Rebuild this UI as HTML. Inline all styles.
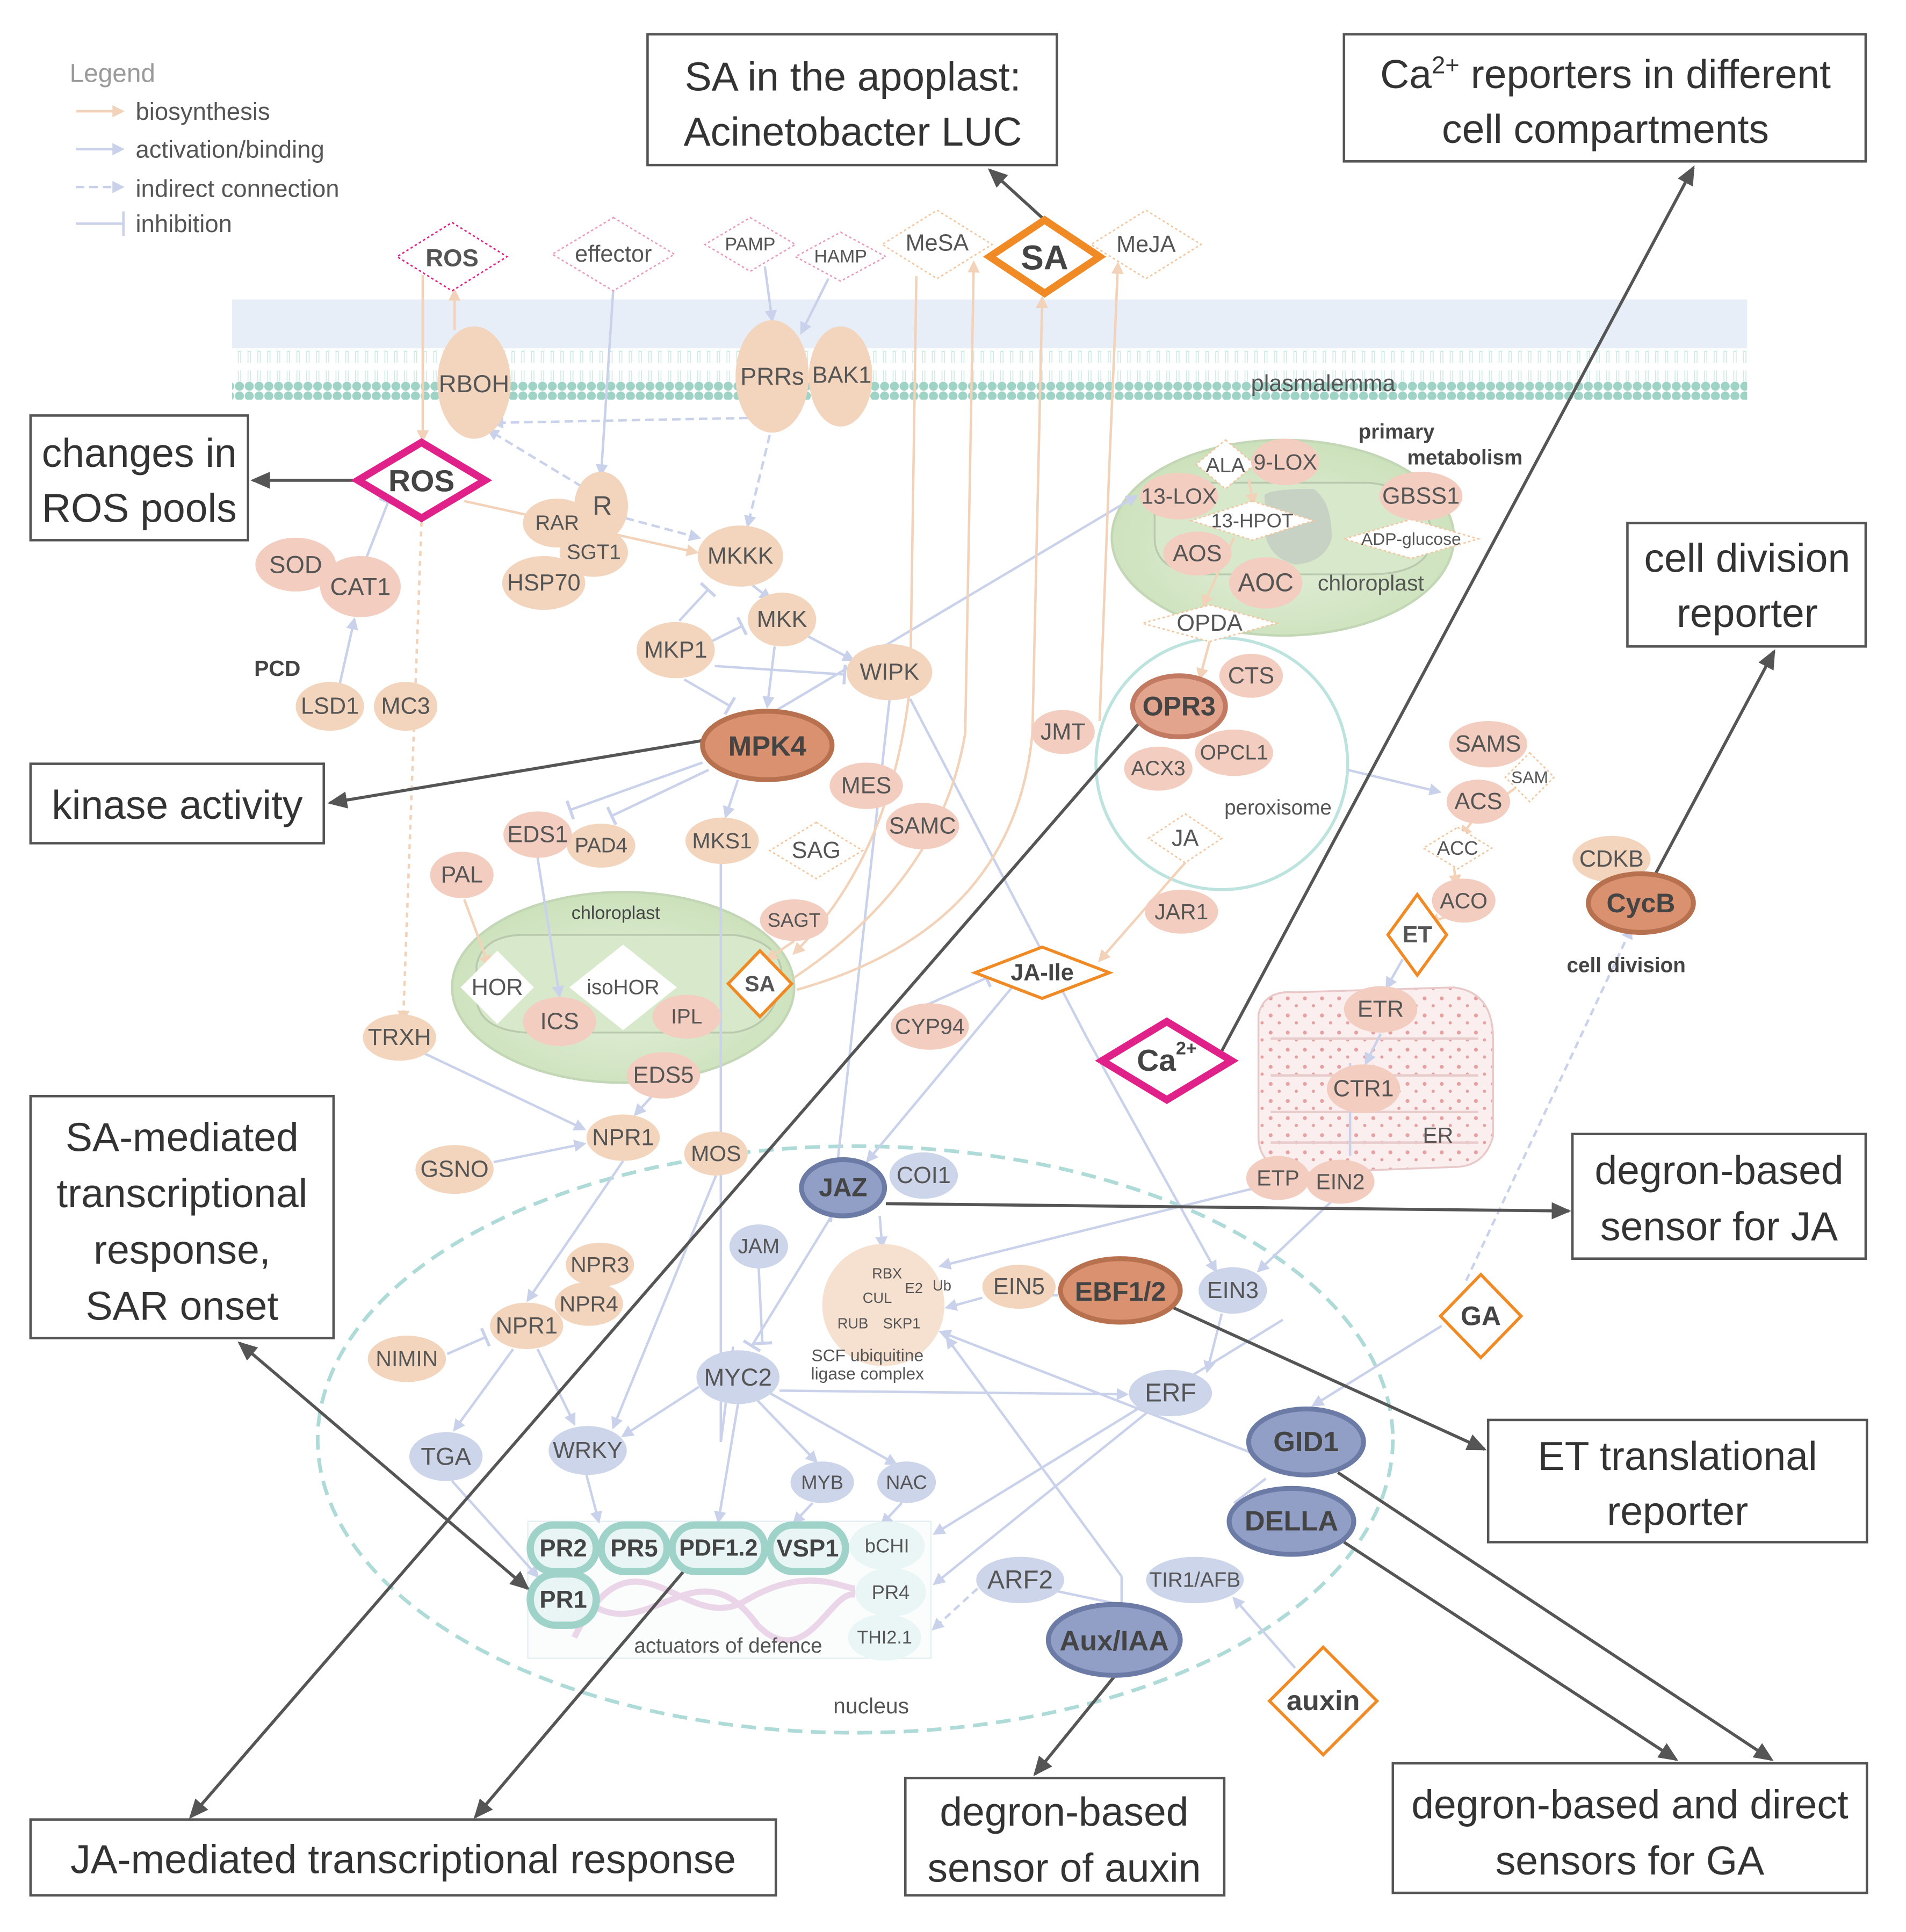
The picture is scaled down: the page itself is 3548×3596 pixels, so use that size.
<!DOCTYPE html>
<html><head><meta charset="utf-8"><style>
html,body{margin:0;padding:0;background:#fff;}
svg{display:block;}
text{font-family:"Liberation Sans",sans-serif;}
.n{font-size:19px;fill:#555;text-anchor:middle;dominant-baseline:central;}
.b{font-weight:bold;}
.h{font-size:33px;fill:#333;text-anchor:middle;font-family:"Liberation Sans",sans-serif;}
.pe{fill:#f3d4bc;}
.pk{fill:#f3cdbf;}
.bl{fill:#cdd5ea;}
.lb{stroke:#c9d2ea;stroke-width:2;fill:none;}
.lp{stroke:#f2d2b8;stroke-width:2;fill:none;}
.dk{stroke:#555;stroke-width:2.5;fill:none;}
</style></head><body>
<svg width="3548" height="3596" viewBox="0 0 1560 1581" xmlns="http://www.w3.org/2000/svg">
<defs>
<marker id="ab" markerWidth="10" markerHeight="10" refX="8" refY="5" orient="auto" markerUnits="userSpaceOnUse"><path d="M0,0 L10,5 L0,10 z" fill="#c9d2ea"/></marker>
<marker id="ap" markerWidth="10" markerHeight="10" refX="8" refY="5" orient="auto" markerUnits="userSpaceOnUse"><path d="M0,0 L10,5 L0,10 z" fill="#f2d2b8"/></marker>
<marker id="ad" markerWidth="16" markerHeight="14" refX="14" refY="7" orient="auto" markerUnits="userSpaceOnUse"><path d="M0,0 L16,7 L0,14 z" fill="#555"/></marker>
<marker id="ads" markerWidth="16" markerHeight="14" refX="2" refY="7" orient="auto" markerUnits="userSpaceOnUse"><path d="M16,0 L0,7 L16,14 z" fill="#555"/></marker>
<marker id="ti" markerWidth="4" markerHeight="16" refX="2" refY="8" orient="auto" markerUnits="userSpaceOnUse"><rect x="0" y="0" width="2.5" height="16" fill="#c9d2ea"/></marker>
<pattern id="lip" x="0" y="0" width="8" height="40" patternUnits="userSpaceOnUse">
<circle cx="4" cy="4" r="3.7" fill="#9fd3c6"/><circle cx="4" cy="36" r="3.7" fill="#9fd3c6"/>
<path d="M3,8 V17 M5,8 V17 M3,23 V32 M5,23 V32" stroke="#cde9e3" stroke-width="0.7"/>
</pattern>
<radialGradient id="chl" cx="50%" cy="55%" r="60%"><stop offset="0" stop-color="#e4efda"/><stop offset="1" stop-color="#c9e0b8"/></radialGradient>
<pattern id="er" width="14" height="14" patternUnits="userSpaceOnUse"><rect width="14" height="14" fill="#faeeee"/><circle cx="4" cy="5" r="1.6" fill="#e6a0a0"/><circle cx="11" cy="11" r="1.3" fill="#e6a0a0"/></pattern>
</defs>

<text x="57" y="67" style="font-size:21px;fill:#9a9a9a">Legend</text>
<line x1="62" y1="91" x2="100" y2="91" class="lp" stroke-width="4" marker-end="url(#ap)"/>
<line x1="62" y1="122" x2="100" y2="122" class="lb" stroke-width="4" marker-end="url(#ab)"/>
<line x1="62" y1="153" x2="100" y2="153" class="lb" stroke-width="3" stroke-dasharray="7 4" marker-end="url(#ab)"/>
<line x1="62" y1="183" x2="100" y2="183" class="lb" stroke-width="4"/><line x1="101" y1="173" x2="101" y2="193" class="lb" stroke-width="3"/>
<text x="111" y="98" style="font-size:20px;fill:#555">biosynthesis</text>
<text x="111" y="129" style="font-size:20px;fill:#555">activation/binding</text>
<text x="111" y="161" style="font-size:20px;fill:#555">indirect connection</text>
<text x="111" y="190" style="font-size:20px;fill:#555">inhibition</text>

<rect x="190" y="245" width="1240" height="40" fill="#e7eef8"/>
<rect x="190" y="287" width="1240" height="40" fill="url(#lip)"/>
<text x="1083" y="320" style="font-size:19px;fill:#555" text-anchor="middle">plasmalemma</text>

<ellipse cx="700" cy="1178" rx="440" ry="240" fill="none" stroke="#aedbd7" stroke-width="3" stroke-dasharray="12 7"/>
<text x="713" y="1396" class="n" style="font-size:18px">nucleus</text>

<ellipse cx="1050" cy="440" rx="140" ry="80" fill="url(#chl)" stroke="#c3d6b6" stroke-width="2"/>
<path d="M945,420 Q950,395 985,395 L1120,395 Q1170,400 1172,440 Q1170,470 1120,470 L985,470 Q945,468 945,440 z" fill="#d7e8cb" stroke="#b8c9ad" stroke-width="1.5"/>
<path d="M1035,405 Q1040,400 1075,400 Q1090,410 1090,440 Q1085,460 1060,462 Q1035,455 1035,430z" fill="#c8d2c4"/>
<text x="1143" y="359" class="b" style="font-size:17px;fill:#444" text-anchor="middle">primary</text>
<text x="1199" y="380" class="b" style="font-size:17px;fill:#444" text-anchor="middle">metabolism</text>

<ellipse cx="510" cy="808" rx="140" ry="78" fill="url(#chl)" stroke="#c3d6b6" stroke-width="2"/>
<path d="M390,790 Q395,765 430,765 L600,765 Q640,770 640,800 Q635,840 600,845 L430,845 Q390,842 390,815 z" fill="#d7e8cb" stroke="#b8c9ad" stroke-width="1.5"/>
<text x="504" y="752" style="font-size:15px;fill:#444" text-anchor="middle">chloroplast</text>

<circle cx="1000" cy="625" r="103" fill="none" stroke="#bde3df" stroke-width="2.5"/>
<text x="1046" y="661" class="n" style="font-size:17px">peroxisome</text>

<path d="M1030,830 Q1035,810 1060,812 L1190,808 Q1222,812 1222,850 L1222,930 Q1215,955 1190,955 L1060,960 Q1030,955 1030,930z" fill="url(#er)" stroke="#e8c8c8" stroke-width="1.5"/>
<path d="M1040,850 H1210 M1040,880 H1210 M1040,910 H1210 M1040,935 H1210" stroke="#e9cccc" stroke-width="2" fill="none"/>
<text x="1177" y="929" class="n" style="font-size:18px">ER</text>

<rect x="432" y="1245" width="330" height="112" fill="#fbfdfd" stroke="#e3eef0" stroke-width="1"/>
<path d="M470,1340 C520,1240 560,1340 610,1310 C660,1280 690,1300 700,1300 M480,1310 C530,1350 570,1260 620,1330 C660,1370 680,1300 700,1305" stroke="#ebd6e9" stroke-width="5" fill="none"/>

<g class="lb">
<line x1="502" y1="236" x2="492" y2="388" marker-end="url(#ab)"/>
<line x1="626" y1="218" x2="632" y2="262" marker-end="url(#ab)"/>
<line x1="678" y1="228" x2="656" y2="272" marker-end="url(#ab)"/>
<line x1="612" y1="342" x2="404" y2="346" stroke-dasharray="7 4" marker-end="url(#ab)"/>
<line x1="476" y1="398" x2="400" y2="352" stroke-dasharray="7 4" marker-end="url(#ab)"/>
<line x1="630" y1="356" x2="612" y2="430" stroke-dasharray="7 4" marker-end="url(#ab)"/>
<line x1="512" y1="424" x2="572" y2="440" stroke-dasharray="7 4" marker-end="url(#ab)"/>
<line x1="616" y1="479" x2="630" y2="490" marker-end="url(#ab)"/>
<line x1="556" y1="508" x2="580" y2="482" marker-end="url(#ti)"/>
<line x1="580" y1="526" x2="608" y2="512" marker-end="url(#ti)"/>
<line x1="585" y1="545" x2="692" y2="552" marker-end="url(#ti)"/>
<line x1="560" y1="556" x2="598" y2="578" marker-end="url(#ti)"/>
<line x1="634" y1="529" x2="628" y2="578" marker-end="url(#ab)"/>
<line x1="660" y1="520" x2="698" y2="540" marker-end="url(#ab)"/>
<line x1="604" y1="600" x2="930" y2="406" marker-end="url(#ab)"/>
<line x1="745" y1="572" x2="890" y2="850" />
<line x1="890" y1="850" x2="995" y2="1040" marker-end="url(#ab)"/>
<line x1="728" y1="573" x2="680" y2="1000"/>
<line x1="575" y1="624" x2="466" y2="663" marker-end="url(#ti)"/>
<line x1="580" y1="630" x2="500" y2="668" marker-end="url(#ti)"/>
<line x1="604" y1="638" x2="594" y2="668" marker-end="url(#ab)"/>
<line x1="590" y1="707" x2="590" y2="1180"/>
<line x1="590" y1="1180" x2="600" y2="1102"/>
<line x1="440" y1="702" x2="458" y2="815" marker-end="url(#ab)"/>
<line x1="278" y1="560" x2="290" y2="507" marker-end="url(#ab)"/>
<line x1="300" y1="456" x2="318" y2="410" marker-end="url(#ti)"/>
<line x1="343" y1="860" x2="478" y2="924" marker-end="url(#ab)"/>
<line x1="404" y1="951" x2="478" y2="936" marker-end="url(#ab)"/>
<line x1="540" y1="890" x2="520" y2="912" marker-end="url(#ab)"/>
<line x1="510" y1="950" x2="432" y2="1064" marker-end="url(#ab)"/>
<line x1="366" y1="1108" x2="398" y2="1094" marker-end="url(#ti)"/>
<line x1="420" y1="1104" x2="372" y2="1170" marker-end="url(#ab)"/>
<line x1="440" y1="1104" x2="470" y2="1165" marker-end="url(#ab)"/>
<line x1="586" y1="962" x2="502" y2="1168" marker-end="url(#ab)"/>
<line x1="370" y1="1212" x2="440" y2="1290" marker-end="url(#ab)"/>
<line x1="480" y1="1207" x2="490" y2="1245" marker-end="url(#ab)"/>
<line x1="604" y1="1149" x2="588" y2="1245" marker-end="url(#ab)"/>
<line x1="572" y1="1135" x2="510" y2="1175" marker-end="url(#ab)"/>
<line x1="620" y1="1146" x2="668" y2="1196" marker-end="url(#ab)"/>
<line x1="630" y1="1140" x2="733" y2="1198" marker-end="url(#ab)"/>
<line x1="665" y1="1230" x2="650" y2="1246" marker-end="url(#ab)"/>
<line x1="738" y1="1230" x2="722" y2="1247" marker-end="url(#ab)"/>
<line x1="638" y1="1138" x2="922" y2="1141" marker-end="url(#ab)"/>
<line x1="621" y1="1038" x2="624" y2="1100" marker-end="url(#ti)"/>
<line x1="680" y1="996" x2="615" y2="1102" marker-end="url(#ti)"/>
<line x1="720" y1="995" x2="722" y2="1020" marker-end="url(#ab)"/>
<line x1="830" y1="806" x2="710" y2="950" marker-end="url(#ab)"/>
<line x1="735" y1="833" x2="808" y2="800" marker-end="url(#ti)"/>
<line x1="1036" y1="970" x2="770" y2="1036" marker-end="url(#ab)"/>
<line x1="1090" y1="983" x2="1030" y2="1040" marker-end="url(#ab)"/>
<line x1="1105" y1="870" x2="1105" y2="946" />
<line x1="1130" y1="846" x2="1118" y2="870" marker-end="url(#ab)"/>
<line x1="1148" y1="785" x2="1135" y2="808" marker-end="url(#ab)"/>
<line x1="804" y1="1062" x2="775" y2="1070" marker-end="url(#ab)"/>
<line x1="866" y1="1060" x2="842" y2="1060" marker-end="url(#ab)"/>
<line x1="1000" y1="1075" x2="988" y2="1122" marker-end="url(#ab)"/>
<line x1="1050" y1="1080" x2="765" y2="1255" marker-end="url(#ab)"/>
<line x1="940" y1="1155" x2="765" y2="1296" marker-end="url(#ab)"/>
<line x1="800" y1="1300" x2="764" y2="1333" stroke-dasharray="6 4" marker-end="url(#ab)"/>
<line x1="912" y1="1312" x2="855" y2="1300" marker-end="url(#ti)"/>
<line x1="918" y1="1312" x2="918" y2="1290"/>
<line x1="918" y1="1290" x2="775" y2="1095" marker-end="url(#ab)"/>
<line x1="1060" y1="1365" x2="1010" y2="1308" marker-end="url(#ab)"/>
<line x1="1180" y1="1085" x2="1075" y2="1150" marker-end="url(#ab)"/>
<line x1="1200" y1="1048" x2="1335" y2="760" stroke-dasharray="6 4" marker-end="url(#ab)"/>
<line x1="1040" y1="1195" x2="770" y2="1090" marker-end="url(#ab)"/>
<line x1="1103" y1="630" x2="1178" y2="648" marker-end="url(#ab)"/>
<line x1="1036" y1="1210" x2="1010" y2="1230"/>
</g>
<g class="lp">
<line x1="346" y1="225" x2="346" y2="360" marker-end="url(#ap)"/>
<line x1="372" y1="270" x2="372" y2="238" marker-end="url(#ap)"/>
<line x1="345" y1="427" x2="330" y2="835" stroke-dasharray="4 4" marker-end="url(#ap)"/>
<line x1="380" y1="410" x2="570" y2="452" marker-end="url(#ap)"/>
<path d="M750,226 L745,560 Q730,700 650,780" marker-end="url(#ap)"/>
<path d="M650,800 Q770,720 790,600 L797,215" marker-end="url(#ap)"/>
<path d="M652,810 Q830,760 845,600 L853,244" marker-end="url(#ap)"/>
<path d="M900,590 L908,380 L915,216" marker-end="url(#ap)"/>
<line x1="380" y1="736" x2="400" y2="790" marker-end="url(#ap)"/>
<line x1="650" y1="770" x2="628" y2="785" marker-end="url(#ap)"/>
<line x1="990" y1="525" x2="982" y2="555" marker-end="url(#ap)"/>
<line x1="970" y1="706" x2="900" y2="786" marker-end="url(#ap)"/>
<line x1="1022" y1="392" x2="1026" y2="412" marker-end="url(#ap)"/>
<line x1="1010" y1="440" x2="985" y2="495" marker-end="url(#ap)"/>
<line x1="1225" y1="656" x2="1240" y2="645"/>
<line x1="1205" y1="672" x2="1196" y2="684" marker-end="url(#ap)"/>
<line x1="1190" y1="710" x2="1192" y2="724" marker-end="url(#ap)"/>
<line x1="1190" y1="748" x2="1170" y2="755" marker-end="url(#ap)"/>
</g>

<g class="dk">
<line x1="292" y1="393" x2="207" y2="393" marker-end="url(#ad)"/>
<line x1="855" y1="180" x2="810" y2="139" marker-end="url(#ad)"/>
<line x1="1000" y1="860" x2="1386" y2="137" marker-end="url(#ad)"/>
<line x1="1355" y1="715" x2="1452" y2="533" marker-end="url(#ad)"/>
<line x1="575" y1="606" x2="270" y2="657" marker-end="url(#ad)"/>
<line x1="725" y1="985" x2="1284" y2="991" marker-end="url(#ad)"/>
<line x1="960" y1="1070" x2="1215" y2="1186" marker-end="url(#ad)"/>
<line x1="932" y1="592" x2="156" y2="1487" marker-end="url(#ad)"/>
<line x1="562" y1="1283" x2="389" y2="1487" marker-end="url(#ad)"/>
<line x1="432" y1="1300" x2="196" y2="1099" marker-end="url(#ad)" marker-start="url(#ads)"/>
<line x1="912" y1="1372" x2="847" y2="1452" marker-end="url(#ad)"/>
<line x1="1095" y1="1205" x2="1450" y2="1440" marker-end="url(#ad)"/>
<line x1="1100" y1="1262" x2="1372" y2="1440" marker-end="url(#ad)"/>
</g>

<g fill="#fff" stroke-width="1.2" stroke-dasharray="2 2">
<polygon points="370,182 415,210 370,238 325,210" stroke="#e0218a"/>
<polygon points="502,178 552,208 502,238 452,208" stroke="#ea9cc0"/>
<polygon points="614,178 651,200 614,222 577,200" stroke="#ea9cc0"/>
<polygon points="688,190 725,210 688,230 651,210" stroke="#ea9cc0"/>
<polygon points="767,172 812,200 767,228 722,200" stroke="#f2c7a0"/>
<polygon points="938,172 983,200 938,228 893,200" stroke="#f2c7a0"/>
<polygon points="668,673 706,696 668,719 630,696" stroke="#f2c7a0"/>
<polygon points="1003,360 1027,380 1003,400 979,380" stroke="#f2c7a0"/>
<polygon points="1025,410 1075,426 1025,442 975,426" stroke="#f2c7a0"/>
<polygon points="1155,425 1210,441 1155,457 1100,441" stroke="#f2c7a0"/>
<polygon points="990,495 1045,510 990,525 935,510" stroke="#f2c7a0"/>
<polygon points="970,666 1000,686 970,706 940,686" stroke="#f2c7a0"/>
<polygon points="1252,616 1272,636 1252,656 1232,636" stroke="#f2c7a0"/>
<polygon points="1193,677 1221,694 1193,711 1165,694" stroke="#f2c7a0"/>
</g>
<g fill="#fff" stroke="none">
<polygon points="407,778 437,808 407,838 377,808"/>
<polygon points="510,773 554,808 510,843 466,808"/>
</g>
<polygon points="855,180 900,210 855,240 810,210" fill="#fff" stroke="#f08a24" stroke-width="6"/>
<polygon points="345,362 397,393 345,424 293,393" fill="#fff" stroke="#e0218a" stroke-width="6"/>
<polygon points="955,836 1008,868 955,900 902,868" fill="#fff" stroke="#e0218a" stroke-width="6"/>
<polygon points="853,775 908,796 853,817 798,796" fill="#fff" stroke="#f08a24" stroke-width="2.5"/>
<polygon points="622,778 648,805 622,832 596,805" fill="#fff" stroke="#f08a24" stroke-width="2.5"/>
<polygon points="1160,732 1184,765 1160,798 1136,765" fill="#fff" stroke="#f08a24" stroke-width="2.5"/>
<polygon points="1212,1043 1245,1077 1212,1111 1179,1077" fill="#fff" stroke="#f08a24" stroke-width="2.5"/>
<polygon points="1083,1348 1127,1392 1083,1436 1039,1392" fill="#fff" stroke="#f08a24" stroke-width="2.5"/>

<g class="pe">
<ellipse cx="388" cy="313" rx="30" ry="46"/>
<ellipse cx="632" cy="308" rx="30" ry="46"/>
<ellipse cx="688" cy="308" rx="26" ry="41"/>
<ellipse cx="492" cy="414" rx="22" ry="28"/>
<ellipse cx="456" cy="428" rx="28" ry="20"/>
<ellipse cx="486" cy="452" rx="28" ry="20"/>
<ellipse cx="445" cy="477" rx="34" ry="22"/>
<ellipse cx="606" cy="455" rx="35" ry="25"/>
<ellipse cx="640" cy="507" rx="28" ry="22"/>
<ellipse cx="553" cy="532" rx="32" ry="23"/>
<ellipse cx="728" cy="550" rx="35" ry="23"/>
<ellipse cx="270" cy="578" rx="28" ry="20"/>
<ellipse cx="332" cy="578" rx="26" ry="20"/>
<ellipse cx="591" cy="688" rx="30" ry="19"/>
<ellipse cx="492" cy="692" rx="28" ry="18"/>
<ellipse cx="327" cy="849" rx="30" ry="19"/>
<ellipse cx="372" cy="957" rx="32" ry="20"/>
<ellipse cx="510" cy="931" rx="30" ry="19"/>
<ellipse cx="586" cy="944" rx="26" ry="18"/>
<ellipse cx="491" cy="1035" rx="28" ry="18"/>
<ellipse cx="482" cy="1067" rx="28" ry="18"/>
<ellipse cx="431" cy="1085" rx="30" ry="19"/>
<ellipse cx="333" cy="1112" rx="32" ry="19"/>
<ellipse cx="834" cy="1053" rx="30" ry="18"/>
<ellipse cx="1319" cy="703" rx="32" ry="19"/>
<circle cx="723" cy="1068" r="50" fill="#f6e0d0"/>
</g>
<g class="pk">
<ellipse cx="242" cy="462" rx="33" ry="22"/>
<ellipse cx="295" cy="480" rx="33" ry="25"/>
<ellipse cx="440" cy="683" rx="28" ry="19"/>
<ellipse cx="709" cy="643" rx="30" ry="19"/>
<ellipse cx="755" cy="676" rx="30" ry="19"/>
<ellipse cx="650" cy="753" rx="28" ry="17"/>
<ellipse cx="378" cy="716" rx="26" ry="19"/>
<ellipse cx="458" cy="836" rx="30" ry="20"/>
<ellipse cx="562" cy="832" rx="28" ry="18"/>
<ellipse cx="543" cy="880" rx="30" ry="19"/>
<ellipse cx="1052" cy="378" rx="28" ry="19"/>
<ellipse cx="965" cy="406" rx="32" ry="19"/>
<ellipse cx="1163" cy="406" rx="34" ry="20"/>
<ellipse cx="980" cy="453" rx="28" ry="18"/>
<ellipse cx="1036" cy="477" rx="30" ry="21"/>
<ellipse cx="1024" cy="553" rx="26" ry="18"/>
<ellipse cx="1010" cy="616" rx="32" ry="19"/>
<ellipse cx="948" cy="629" rx="28" ry="18"/>
<ellipse cx="870" cy="599" rx="26" ry="18"/>
<ellipse cx="967" cy="746" rx="30" ry="18"/>
<ellipse cx="761" cy="840" rx="32" ry="19"/>
<ellipse cx="1218" cy="609" rx="32" ry="19"/>
<ellipse cx="1210" cy="656" rx="26" ry="18"/>
<ellipse cx="1198" cy="737" rx="26" ry="18"/>
<ellipse cx="1130" cy="826" rx="30" ry="19"/>
<ellipse cx="1116" cy="891" rx="30" ry="20"/>
<ellipse cx="1046" cy="964" rx="26" ry="18"/>
<ellipse cx="1097" cy="967" rx="28" ry="18"/>
</g>
<ellipse cx="628" cy="610" rx="53" ry="28" fill="#d99170" stroke="#b8714f" stroke-width="4"/>
<ellipse cx="965" cy="578" rx="38" ry="25" fill="#e2a48c" stroke="#c27a62" stroke-width="4"/>
<ellipse cx="917" cy="1056" rx="49" ry="26" fill="#d99170" stroke="#b8714f" stroke-width="4"/>
<ellipse cx="1343" cy="739" rx="43" ry="24" fill="#d99170" stroke="#b8714f" stroke-width="4"/>
<g class="bl">
<ellipse cx="756" cy="962" rx="28" ry="19"/>
<ellipse cx="621" cy="1020" rx="24" ry="18"/>
<ellipse cx="1009" cy="1056" rx="28" ry="19"/>
<ellipse cx="604" cy="1127" rx="34" ry="22"/>
<ellipse cx="958" cy="1140" rx="34" ry="19"/>
<ellipse cx="365" cy="1192" rx="30" ry="20"/>
<ellipse cx="481" cy="1187" rx="32" ry="20"/>
<ellipse cx="673" cy="1213" rx="26" ry="17"/>
<ellipse cx="742" cy="1213" rx="24" ry="17"/>
<ellipse cx="835" cy="1293" rx="36" ry="19"/>
<ellipse cx="978" cy="1293" rx="40" ry="19"/>
</g>
<g fill="#919fc6" stroke="#6b7ba6" stroke-width="4">
<ellipse cx="690" cy="972" rx="34" ry="23"/>
<ellipse cx="1069" cy="1180" rx="47" ry="27"/>
<ellipse cx="1057" cy="1245" rx="51" ry="27"/>
<ellipse cx="912" cy="1342" rx="54" ry="29"/>
</g>
<g fill="#e8f5f4" stroke="#9fd3c9" stroke-width="6">
<rect x="434" y="1248" width="54" height="38" rx="19"/>
<rect x="492" y="1248" width="54" height="38" rx="19"/>
<rect x="550" y="1248" width="76" height="38" rx="19"/>
<rect x="630" y="1248" width="62" height="38" rx="19"/>
<rect x="434" y="1288" width="54" height="42" rx="21"/>
</g>
<g fill="#eaf6f6">
<ellipse cx="726" cy="1265" rx="31" ry="20"/>
<ellipse cx="729" cy="1303" rx="29" ry="20"/>
<ellipse cx="724" cy="1340" rx="30" ry="19"/>
</g>

<g class="n">
<text x="370" y="211" class="b" style="font-size:20px">ROS</text>
<text x="502" y="208">effector</text>
<text x="614" y="200" style="font-size:15px">PAMP</text>
<text x="688" y="210" style="font-size:15px">HAMP</text>
<text x="767" y="199">MeSA</text>
<text x="855" y="211" class="b" style="font-size:28px;fill:#444">SA</text>
<text x="938" y="200">MeJA</text>
<text x="388" y="314" style="font-size:20px">RBOH</text>
<text x="632" y="308" style="font-size:20px">PRRs</text>
<text x="689" y="307">BAK1</text>
<text x="345" y="394" class="b" style="font-size:25px;fill:#444">ROS</text>
<text x="493" y="414" style="font-size:22px">R</text>
<text x="456" y="428" style="font-size:17px">RAR</text>
<text x="486" y="452" style="font-size:17px">SGT1</text>
<text x="445" y="477">HSP70</text>
<text x="606" y="455">MKKK</text>
<text x="640" y="507">MKK</text>
<text x="553" y="532">MKP1</text>
<text x="728" y="550">WIPK</text>
<text x="242" y="462" style="font-size:20px">SOD</text>
<text x="295" y="480" style="font-size:20px">CAT1</text>
<text x="227" y="547" class="b" style="font-size:18px;fill:#444">PCD</text>
<text x="270" y="578">LSD1</text>
<text x="332" y="578">MC3</text>
<text x="628" y="611" class="b" style="font-size:23px;fill:#444">MPK4</text>
<text x="440" y="683">EDS1</text>
<text x="492" y="692" style="font-size:17px">PAD4</text>
<text x="591" y="688" style="font-size:18px">MKS1</text>
<text x="709" y="643">MES</text>
<text x="755" y="676">SAMC</text>
<text x="668" y="696">SAG</text>
<text x="650" y="753" style="font-size:16px">SAGT</text>
<text x="378" y="716">PAL</text>
<text x="407" y="808">HOR</text>
<text x="510" y="808" style="font-size:17px">isoHOR</text>
<text x="458" y="836">ICS</text>
<text x="562" y="832" style="font-size:17px">IPL</text>
<text x="622" y="805" class="b" style="font-size:18px">SA</text>
<text x="543" y="880">EDS5</text>
<text x="327" y="849">TRXH</text>
<text x="510" y="931">NPR1</text>
<text x="372" y="957">GSNO</text>
<text x="586" y="944" style="font-size:18px">MOS</text>
<text x="1003" y="381" style="font-size:17px">ALA</text>
<text x="1052" y="378" style="font-size:18px">9-LOX</text>
<text x="965" y="406" style="font-size:18px">13-LOX</text>
<text x="1163" y="406">GBSS1</text>
<text x="1025" y="426" style="font-size:16px">13-HPOT</text>
<text x="1155" y="441" style="font-size:14px">ADP-glucose</text>
<text x="980" y="453">AOS</text>
<text x="1036" y="477" style="font-size:21px">AOC</text>
<text x="1122" y="477" style="font-size:18px">chloroplast</text>
<text x="990" y="510">OPDA</text>
<text x="965" y="578" class="b" style="font-size:22px;fill:#444">OPR3</text>
<text x="1024" y="553">CTS</text>
<text x="1010" y="616" style="font-size:17px">OPCL1</text>
<text x="948" y="629" style="font-size:17px">ACX3</text>
<text x="870" y="599">JMT</text>
<text x="970" y="686">JA</text>
<text x="967" y="746" style="font-size:18px">JAR1</text>
<text x="853" y="796" class="b" style="font-size:19px;fill:#444">JA-Ile</text>
<text x="761" y="840" style="font-size:18px">CYP94</text>
<text x="955" y="868" class="b" style="font-size:25px;fill:#444">Ca<tspan dy="-10" style="font-size:15px">2+</tspan></text>
<text x="1218" y="609">SAMS</text>
<text x="1252" y="636" style="font-size:14px">SAM</text>
<text x="1210" y="656">ACS</text>
<text x="1193" y="694" style="font-size:16px">ACC</text>
<text x="1198" y="737" style="font-size:18px">ACO</text>
<text x="1160" y="765" class="b" style="font-size:19px">ET</text>
<text x="1319" y="703">CDKB</text>
<text x="1343" y="739" class="b" style="font-size:22px;fill:#444">CycB</text>
<text x="1331" y="790" class="b" style="font-size:17px;fill:#444">cell division</text>
<text x="1130" y="826">ETR</text>
<text x="1116" y="891">CTR1</text>
<text x="1046" y="964" style="font-size:18px">ETP</text>
<text x="1097" y="967" style="font-size:18px">EIN2</text>
<text x="690" y="972" class="b" style="font-size:21px;fill:#444">JAZ</text>
<text x="756" y="962">COI1</text>
<text x="621" y="1020" style="font-size:17px">JAM</text>
<text x="726" y="1042" style="font-size:12px">RBX</text>
<text x="748" y="1054" style="font-size:12px">E2</text>
<text x="771" y="1052" style="font-size:12px">Ub</text>
<text x="718" y="1062" style="font-size:12px">CUL</text>
<text x="698" y="1083" style="font-size:12px">RUB</text>
<text x="738" y="1083" style="font-size:12px">SKP1</text>
<text x="710" y="1109" style="font-size:14px">SCF ubiquitine</text>
<text x="710" y="1124" style="font-size:14px">ligase complex</text>
<text x="834" y="1053">EIN5</text>
<text x="917" y="1057" class="b" style="font-size:22px;fill:#444">EBF1/2</text>
<text x="1009" y="1056">EIN3</text>
<text x="491" y="1035" style="font-size:18px">NPR3</text>
<text x="482" y="1067" style="font-size:18px">NPR4</text>
<text x="431" y="1085">NPR1</text>
<text x="333" y="1112" style="font-size:18px">NIMIN</text>
<text x="604" y="1127" style="font-size:20px">MYC2</text>
<text x="958" y="1140" style="font-size:21px">ERF</text>
<text x="365" y="1192" style="font-size:20px">TGA</text>
<text x="481" y="1187">WRKY</text>
<text x="1069" y="1180" class="b" style="font-size:23px;fill:#444">GID1</text>
<text x="1057" y="1245" class="b" style="font-size:23px;fill:#444">DELLA</text>
<text x="1212" y="1077" class="b" style="font-size:22px;fill:#444">GA</text>
<text x="673" y="1213" style="font-size:16px">MYB</text>
<text x="742" y="1213" style="font-size:16px">NAC</text>
<text x="461" y="1267" class="b" style="font-size:20px;fill:#444">PR2</text>
<text x="519" y="1267" class="b" style="font-size:20px;fill:#444">PR5</text>
<text x="588" y="1267" class="b" style="font-size:19px;fill:#444">PDF1.2</text>
<text x="661" y="1267" class="b" style="font-size:20px;fill:#444">VSP1</text>
<text x="461" y="1309" class="b" style="font-size:20px;fill:#444">PR1</text>
<text x="726" y="1265" style="font-size:16px">bCHI</text>
<text x="729" y="1303" style="font-size:16px">PR4</text>
<text x="724" y="1340" style="font-size:15px">THI2.1</text>
<text x="596" y="1347" style="font-size:17px">actuators of defence</text>
<text x="835" y="1293" style="font-size:21px">ARF2</text>
<text x="978" y="1293" style="font-size:17px">TIR1/AFB</text>
<text x="912" y="1343" class="b" style="font-size:23px;fill:#444">Aux/IAA</text>
<text x="1083" y="1392" class="b" style="font-size:23px;fill:#444">auxin</text>
</g>

<g fill="#fff" stroke="#555" stroke-width="2">
<rect x="530" y="28" width="335" height="107"/>
<rect x="1100" y="28" width="427" height="104"/>
<rect x="25" y="340" width="178" height="102"/>
<rect x="1332" y="428" width="195" height="101"/>
<rect x="25" y="625" width="240" height="65"/>
<rect x="25" y="897" width="248" height="198"/>
<rect x="1287" y="928" width="240" height="102"/>
<rect x="1218" y="1162" width="310" height="100"/>
<rect x="25" y="1489" width="610" height="62"/>
<rect x="741" y="1455" width="261" height="96"/>
<rect x="1140" y="1443" width="388" height="106"/>
</g>
<g class="h">
<text x="698" y="74">SA in the apoplast:</text>
<text x="698" y="119">Acinetobacter LUC</text>
<text x="1314" y="72">Ca<tspan dy="-12" style="font-size:20px">2+</tspan><tspan dy="12"> reporters in different</tspan></text>
<text x="1314" y="117">cell compartments</text>
<text x="114" y="382">changes in</text>
<text x="114" y="427">ROS pools</text>
<text x="1430" y="468">cell division</text>
<text x="1430" y="513">reporter</text>
<text x="145" y="670">kinase activity</text>
<text x="149" y="942">SA-mediated</text>
<text x="149" y="988">transcriptional</text>
<text x="149" y="1034">response,</text>
<text x="149" y="1080">SAR onset</text>
<text x="1407" y="969">degron-based</text>
<text x="1407" y="1015">sensor for JA</text>
<text x="1373" y="1203">ET translational</text>
<text x="1373" y="1248">reporter</text>
<text x="330" y="1533">JA-mediated transcriptional response</text>
<text x="871" y="1494">degron-based</text>
<text x="871" y="1540">sensor of auxin</text>
<text x="1334" y="1488">degron-based and direct</text>
<text x="1334" y="1534">sensors for GA</text>
</g>
</svg>
</body></html>
